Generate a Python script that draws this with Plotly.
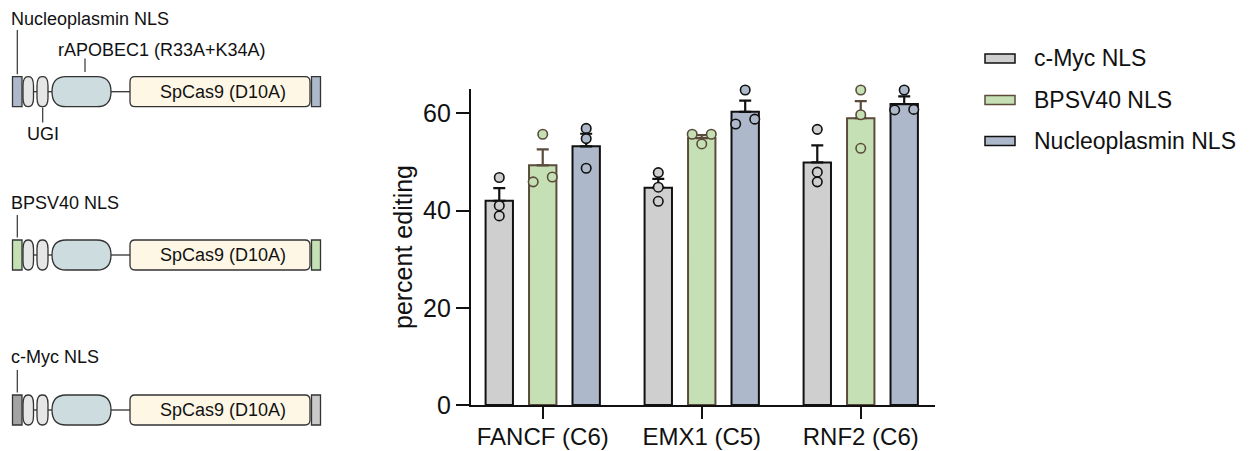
import plotly.graph_objects as go

# ---------------- data ----------------
categories = ["FANCF (C6)", "EMX1 (C5)", "RNF2 (C6)"]
series_names = ["c-Myc NLS", "BPSV40 NLS", "Nucleoplasmin NLS"]

mean_cmyc = [42.0, 44.7, 49.9]
mean_bpsv40 = [49.3, 54.9, 59.0]
mean_npm = [53.2, 60.3, 61.9]

sem_cmyc = [2.6, 1.8, 3.5]
sem_bpsv40 = [3.3, 0.6, 3.5]
sem_npm = [2.6, 2.3, 1.6]

reps_cmyc = [[46.8, 41.0, 38.9], [47.8, 44.8, 41.9], [56.7, 47.9, 45.9]]
reps_bpsv40 = [[55.7, 45.9, 46.9], [55.7, 55.7, 53.7], [64.8, 59.7, 52.8]]
reps_npm = [[56.9, 54.8, 48.7], [64.8, 57.8, 58.8], [64.8, 60.8, 60.7]]

y_ticks = [0, 20, 40, 60]
y_title = "percent editing"

construct_labels = ["Nucleoplasmin NLS", "BPSV40 NLS", "c-Myc NLS"]
apobec_label = "rAPOBEC1 (R33A+K34A)"
ugi_label = "UGI"
cas9_label = "SpCas9 (D10A)"

# ---------------- style ----------------
W, H = 1252, 451
FONT = "Liberation Sans, Arial, Helvetica, sans-serif"
fills = ["#d0cfd0", "#c5e0b4", "#adb9ca"]
edges = ["#111111", "#5a4b3a", "#111111"]
nls_left_fill = ["#adb9ca", "#c5e0b4", "#a3a3a3"]
nls_right_fill = ["#adb9ca", "#c5e0b4", "#cacaca"]

px_left, px_right = 470.7, 935.0
py_top, py_bot = 89.0, 405.0
bargap, bargroupgap = 0.18, 0.37
xrange_ = [-0.453, 2.467]

means = [mean_cmyc, mean_bpsv40, mean_npm]
sems = [sem_cmyc, sem_bpsv40, sem_npm]
reps = [reps_cmyc, reps_bpsv40, reps_npm]

fig = go.Figure()

# bars with one-sided SEM error bars
for k in range(3):
    fig.add_trace(go.Bar(
        x=list(range(len(categories))), y=means[k], name=series_names[k],
        marker=dict(color=fills[k], line=dict(color=edges[k], width=2)),
        error_y=dict(type="data", array=sems[k], arrayminus=[0] * len(categories),
                     symmetric=False, color=edges[k], thickness=2.2, width=6),
        showlegend=False,
    ))

# individual replicate points (simple beeswarm spread for near-identical values)
slot = (1 - bargap) / 3
jit = 0.06
for k in range(3):
    xs, ys = [], []
    for i, vals in enumerate(reps[k]):
        order = sorted(range(len(vals)), key=lambda j: vals[j])
        used = set()
        clusters = []
        for a in order:
            if a in used:
                continue
            cl = [a]
            used.add(a)
            for b in order:
                if b not in used and abs(vals[b] - vals[a]) < 1.5:
                    cl.append(b)
                    used.add(b)
            clusters.append(cl)
        for cl in clusters:
            n = len(cl)
            for m, j in enumerate(cl):
                off = (m - (n - 1) / 2) * 2 * jit if n > 1 else 0.0
                xs.append(i + (k - 1) * slot + off)
                ys.append(vals[j])
    fig.add_trace(go.Scatter(
        x=xs, y=ys, mode="markers", showlegend=False, cliponaxis=False,
        marker=dict(size=9.5, color=fills[k], line=dict(color=edges[k], width=1.6)),
        hoverinfo="y",
    ))

# ---------------- helpers for the schematic (pixel -> paper) ----------------
def fx(p):
    return p / W


def fy(p):
    return 1 - p / H


def rrect(x0, y0, x1, y1, rx, ry):
    pts = [
        ("M", [(x0 + rx, y0)]),
        ("L", [(x1 - rx, y0)]),
        ("Q", [(x1, y0), (x1, y0 + ry)]),
        ("L", [(x1, y1 - ry)]),
        ("Q", [(x1, y1), (x1 - rx, y1)]),
        ("L", [(x0 + rx, y1)]),
        ("Q", [(x0, y1), (x0, y1 - ry)]),
        ("L", [(x0, y0 + ry)]),
        ("Q", [(x0, y0), (x0 + rx, y0)]),
    ]
    s = ""
    for cmd, pp in pts:
        s += cmd + " ".join(f"{fx(a):.6f},{fy(b):.6f}" for a, b in pp)
    return s + "Z"


shapes = []
annotations = []
OUT = "#333333"


def add_rect(x0, y0, x1, y1, fill, lw=1.3):
    shapes.append(dict(type="rect", xref="paper", yref="paper",
                       x0=fx(x0), x1=fx(x1), y0=fy(y1), y1=fy(y0),
                       fillcolor=fill, line=dict(color=OUT, width=lw), layer="above"))


def add_path(path, fill, lw=1.3):
    shapes.append(dict(type="path", xref="paper", yref="paper", path=path,
                       fillcolor=fill, line=dict(color=OUT, width=lw), layer="above"))


def add_line(x0, y0, x1, y1, lw=1.3, color=OUT):
    shapes.append(dict(type="line", xref="paper", yref="paper",
                       x0=fx(x0), x1=fx(x1), y0=fy(y0), y1=fy(y1),
                       line=dict(color=color, width=lw), layer="above"))


def add_text(x, y, text, size=18, xanchor="left"):
    annotations.append(dict(xref="paper", yref="paper", x=fx(x), y=fy(y), text=text,
                            showarrow=False, xanchor=xanchor, yanchor="middle",
                            font=dict(family=FONT, size=size, color="#111111")))


row_centers = [91.7, 255.0, 410.0]
label_centers = [18.5, 203.0, 357.0]
label_line_top = [30.0, 215.0, 370.0]
hh = 15.0
for r, cy in enumerate(row_centers):
    top, bot = cy - hh, cy + hh
    # connectors
    add_line(33, cy, 37, cy)
    add_line(48, cy, 52, cy)
    add_line(111, cy, 130, cy)
    # NLS blocks
    add_rect(12.5, top, 22, bot, nls_left_fill[r])
    add_rect(311.5, top, 320.5, bot, nls_right_fill[r])
    # UGI x2
    add_path(rrect(23, top, 33.5, bot, 5, 9), "#e6e6e6")
    add_path(rrect(37, top, 48, bot, 5, 9), "#e6e6e6")
    # rAPOBEC1
    add_path(rrect(52, top, 111, bot, 14, 15), "#cddcdf")
    # SpCas9
    add_path(rrect(130, top, 310, bot, 5, 5), "#fef7e6")
    add_text(223, cy, cas9_label, 18, "center")
    # NLS label + tick
    add_text(9, label_centers[r], construct_labels[r], 18)
    add_line(17.3, label_line_top[r], 17.3, top - 2.5, lw=1.2)

# rAPOBEC1 and UGI labels (top construct only)
add_text(56, 50, apobec_label, 18)
add_line(85, 58.5, 85, 72, lw=1.2)
add_text(25, 134, ugi_label, 18)
add_line(42.7, 107.5, 42.7, 122.5, lw=1.2)

# ---------------- legend (drawn manually) ----------------
leg_y = [58.5, 100.0, 141.0]
for k in range(3):
    add_rect(985, leg_y[k] - 4.5, 1015, leg_y[k] + 4.5, fills[k], lw=1.5)
    shapes[-1]["line"]["color"] = edges[k]
    add_text(1032, leg_y[k], series_names[k], 23)

fig.update_layout(
    width=W, height=H,
    margin=dict(l=0, r=0, t=0, b=0, autoexpand=False),
    paper_bgcolor="white", plot_bgcolor="white",
    barmode="group", bargap=bargap, bargroupgap=bargroupgap,
    font=dict(family=FONT, color="#111111"),
    shapes=shapes, annotations=annotations,
    xaxis=dict(
        domain=[px_left / W, px_right / W], range=xrange_, type="linear",
        tickmode="array", tickvals=list(range(len(categories))), ticktext=categories,
        ticks="outside", ticklen=12, tickwidth=1.6, tickcolor="#111111",
        showline=True, linecolor="#111111", linewidth=1.6,
        showgrid=False, zeroline=False, automargin=False,
        ticklabelstandoff=-3,
        tickfont=dict(family=FONT, size=24, color="#111111"),
    ),
    yaxis=dict(
        domain=[(H - py_bot) / H, (H - py_top) / H], range=[0, 65],
        tickmode="array", tickvals=y_ticks,
        ticks="outside", ticklen=13, tickwidth=1.6, tickcolor="#111111",
        showline=True, linecolor="#111111", linewidth=1.6,
        showgrid=False, zeroline=False, automargin=False,
        tickfont=dict(family=FONT, size=25, color="#111111"),
        title=dict(text=y_title, font=dict(family=FONT, size=25, color="#111111"), standoff=3),
    ),
)

fig.write_html("out.html")
